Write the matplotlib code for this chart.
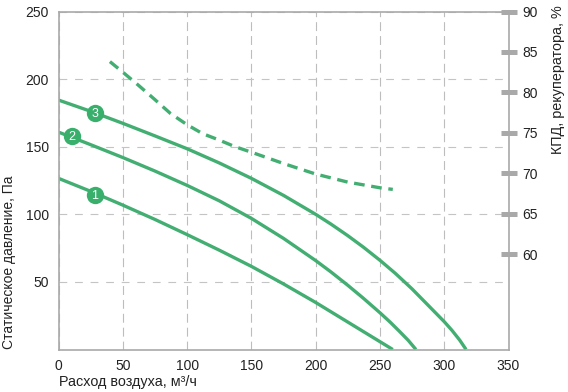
import matplotlib
matplotlib.use('Agg')
import matplotlib.pyplot as plt

plt.rcParams['font.family'] = ['Liberation Sans', 'DejaVu Sans']

# curves
x1 = [0, 25, 50, 75, 100, 125, 150, 175, 200, 225, 250, 260]
y1 = [126.6, 117, 106.8, 96.2, 85, 73.5, 61.5, 48.5, 34.8, 20.3, 5.8, 0]
x2 = [0, 25, 50, 75, 100, 125, 150, 175, 200, 212, 225, 237, 250, 258, 265, 272, 278]
y2 = [160.8, 151.5, 142, 132, 121.4, 110, 97, 82.2, 65.8, 57.3, 47.5, 38, 27.2, 20.2, 13.6, 6.8, 0]
x3 = [0, 25, 50, 75, 100, 125, 150, 175, 200, 212, 225, 237, 250, 262, 275, 287, 300, 306, 312, 317]
y3 = [184.5, 176.2, 167.3, 158, 148.5, 138, 126.6, 114, 100, 92.7, 84.2, 75.8, 66, 56.3, 44.8, 33.2, 20.6, 14.2, 7, 0]
x_eff = [40, 50, 62, 75, 87, 100, 112, 125, 137, 150, 175, 200, 225, 250, 260]
y_eff = [83.8, 82.5, 80.9, 79.1, 77.4, 76, 74.9, 74.1, 73.3, 72.6, 71.2, 69.9, 68.9, 68.2, 68]

marks_x = [28.4, 10.7, 28.4]
marks_y = [114.3, 157.9, 174.6]
marks_txt = ['1', '2', '3']

xticks = [0, 50, 100, 150, 200, 250, 300, 350]
yticks = [50, 100, 150, 200, 250]
rticks = [60, 65, 70, 75, 80, 85, 90]

green = '#43ae72'
gray = '#a9a9a9'
txt = '#222222'
W, H = 568, 392

fig = plt.figure(figsize=(W / 100, H / 100), dpi=100)
ax = fig.add_axes([58.5 / W, 1 - 349.5 / H, 450 / W, 338 / H])
ax.set_xlim(0, 350)
ax.set_ylim(0, 250)
ax.set_xticks(xticks)
ax.set_yticks(yticks)
ax.grid(axis='x', color='#bdbdbd', lw=0.8, ls=(0, (8, 4.5)))
ax.grid(axis='y', color='#c4c4c4', lw=0.8, ls=(0, (7, 7)))
ax.set_axisbelow(True)
ax.tick_params(length=0, labelsize=10, labelcolor=txt, pad=7)
for s in ax.spines.values():
    s.set_color(gray)
    s.set_linewidth(1.2)

for xs, ys in [(x1, y1), (x2, y2), (x3, y3)]:
    ax.plot(xs, ys, color=green, lw=2.4, solid_capstyle='butt', solid_joinstyle='round')

for mx, my, t in zip(marks_x, marks_y, marks_txt):
    ax.plot(mx, my, 'o', color='#38b06c', ms=12.5, mew=0)
    ax.text(mx, my - 0.5, t, color='white', fontsize=9, ha='center', va='center')

ar = ax.twinx()
ar.set_ylim(48.2, 90)
ar.set_yticks(rticks)
ar.tick_params(direction='inout', length=12, width=3.6, color=gray, labelsize=10,
               labelcolor=txt, pad=4)
for s in ar.spines.values():
    s.set_visible(False)
ar.plot(x_eff, y_eff, color=green, lw=2.4, ls=(0, (3.2, 2.0)))

fig.text(59 / W, 1 - 382 / H, 'Расход воздуха, м³/ч', fontsize=10.4, color=txt, ha='left', va='center')
fig.text(9 / W, 1 - 349 / H, 'Статическое давление, Па', fontsize=10, color=txt, rotation=90,
         ha='center', va='bottom')
fig.text(558 / W, 1 - 154 / H, 'КПД, рекуператора, %', fontsize=10.4, color=txt, rotation=90,
         ha='center', va='bottom')

fig.savefig('out.png', dpi=100)
